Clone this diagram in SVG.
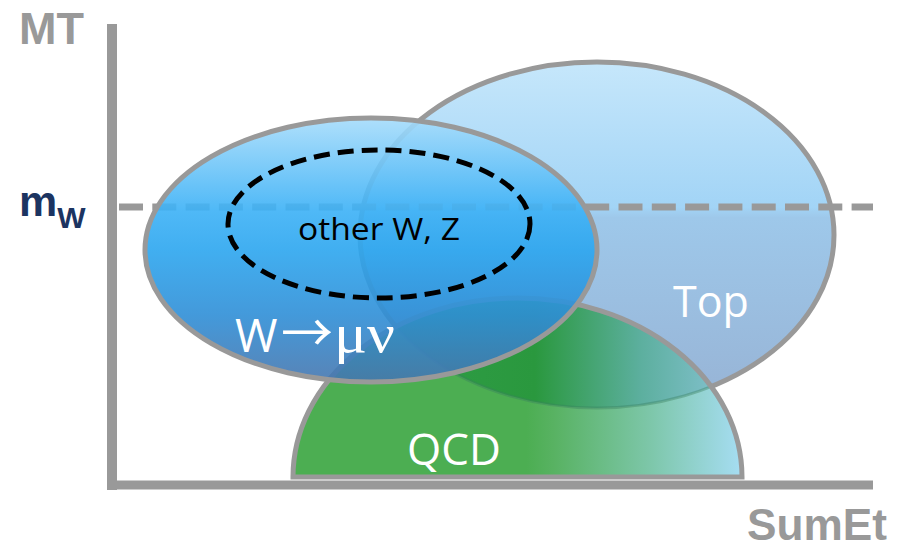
<svg xmlns="http://www.w3.org/2000/svg" width="903" height="548" viewBox="0 0 903 548">
<defs>
<style>
.edge{stroke:#999;stroke-width:5;}
.axis{stroke:#999;fill:none;}
.lbl{font-family:"Open Sans","Liberation Sans",sans-serif;fill:#fff;}
.ax{font-family:"Liberation Sans",Arial,sans-serif;font-weight:bold;fill:#999;}
</style>
<linearGradient id="topGrad" x1="0" y1="0" x2="0" y2="1">
<stop offset="0" stop-color="#c6e7fb"/>
<stop offset="0.42" stop-color="#a2d4f6"/>
<stop offset="0.45" stop-color="#9ec8ea"/>
<stop offset="1" stop-color="#97b3d5"/>
</linearGradient>
<linearGradient id="wGrad" x1="0" y1="0" x2="0" y2="1">
<stop offset="0" stop-color="#a6dcfb"/>
<stop offset="0.35" stop-color="#3cb1f6"/>
<stop offset="0.5" stop-color="#2ca6ef"/>
<stop offset="0.75" stop-color="#2f8ed6"/>
<stop offset="1" stop-color="#4676ae"/>
</linearGradient>
<linearGradient id="qcdGrad" gradientUnits="userSpaceOnUse" x1="293" y1="0" x2="742" y2="0">
<stop offset="0" stop-color="#4cae52"/>
<stop offset="0.52" stop-color="#4cae52"/>
<stop offset="0.58" stop-color="#58b262"/>
<stop offset="0.8" stop-color="#7ec7ab"/>
<stop offset="1" stop-color="#a6ddf3"/>
</linearGradient>
<linearGradient id="ovGrad" gradientUnits="userSpaceOnUse" x1="430" y1="0" x2="730" y2="0">
<stop offset="0" stop-color="#2e9c44"/>
<stop offset="0.35" stop-color="#2a983e"/>
<stop offset="0.7" stop-color="#5caf9e"/>
<stop offset="1" stop-color="#86c2d2"/>
</linearGradient>
<clipPath id="qcdClip"><path d="M293 477 A224.5 179 0 0 1 742 477 Z"/></clipPath>
</defs>

<g id="top">
<ellipse cx="597" cy="235" rx="237" ry="173" fill="url(#topGrad)" class="edge"/>
</g>

<g id="connectors">
<line x1="119" y1="207" x2="873" y2="207" stroke="#999" stroke-width="7" stroke-dasharray="24 9.3"/>
</g>

<g id="qcd">
<path d="M293 477 A224.5 179 0 0 1 742 477 Z" fill="url(#qcdGrad)"/>
<g clip-path="url(#qcdClip)">
<ellipse cx="597" cy="235" rx="237" ry="173" fill="url(#ovGrad)"/>
<ellipse cx="597" cy="235" rx="237" ry="173" fill="none" stroke="#3a7f60" stroke-width="3" stroke-opacity="0.4"/>
</g>
<path d="M293 477 A224.5 179 0 0 1 742 477 Z" fill="none" class="edge"/>
</g>

<g id="wmunu">
<ellipse cx="371" cy="250" rx="226" ry="132" fill="url(#wGrad)" fill-opacity="0.9" class="edge"/>
</g>

<g id="otherWZ">
<ellipse cx="379" cy="224" rx="151" ry="74" fill="none" stroke="#000" stroke-width="5" stroke-dasharray="16 8"/>
<text x="298" y="240" font-family="'Open Sans','Liberation Sans',sans-serif" font-size="31" fill="#000" textLength="162" lengthAdjust="spacingAndGlyphs">other W, Z</text>
</g>

<g id="labels">
<text class="lbl" x="235" y="352" font-size="46">W<tspan x="281" font-family="'Noto Sans CJK SC',sans-serif" font-size="52">→</tspan><tspan x="334" font-family="'Liberation Serif',serif" font-size="54" textLength="61" lengthAdjust="spacingAndGlyphs">μν</tspan></text>
<text class="lbl" x="673" y="317" font-size="43">Top</text>
<text class="lbl" x="407" y="465" font-size="44">QCD</text>
</g>

<g id="axes">
<line class="axis" x1="112" y1="24" x2="112" y2="490" stroke-width="10"/>
<line class="axis" x1="107" y1="485" x2="873" y2="485" stroke-width="9"/>
<text class="ax" x="19" y="44" font-size="45">MT</text>
<text class="ax" x="747" y="540" font-size="44" textLength="140" lengthAdjust="spacingAndGlyphs">SumEt</text>
<text x="19" y="216" font-family="'Liberation Sans',Arial,sans-serif" font-weight="bold" font-size="43" fill="#1c3461">m<tspan font-size="30" dy="12">W</tspan></text>
</g>
</svg>
